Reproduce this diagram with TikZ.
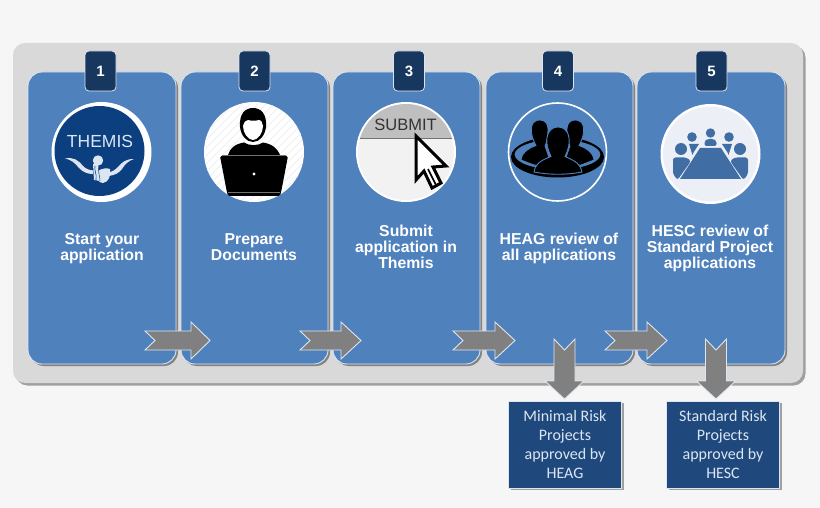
\documentclass[tikz,border=0pt]{standalone}
\usepackage{fontspec}
\setmainfont{Liberation Sans}
\newfontfamily\boxfont{Carlito}
\usetikzlibrary{shadows}
\definecolor{pagebg}{HTML}{F6F6F6}
\definecolor{panelc}{HTML}{D9D9D9}
\definecolor{cardc}{HTML}{4F81BD}
\definecolor{edgec}{HTML}{DCE6F2}
\definecolor{badgec}{HTML}{17375E}
\definecolor{boxc}{HTML}{1F497D}
\definecolor{arrowc}{HTML}{808080}
\definecolor{themisc}{HTML}{0B3F7F}
\definecolor{tablec}{HTML}{3F6DA4}
\definecolor{discc}{HTML}{ECF0F6}
\tikzset{
  x=1pt,y=-1pt,
  card/.style={draw=edgec,line width=.9pt,fill=cardc,rounded corners=14pt,minimum width=148pt,minimum height=292pt,inner sep=0pt,
    drop shadow={shadow xshift=2pt,shadow yshift=-2pt,fill=black,opacity=.4}},
  badge/.style={draw=edgec,line width=.8pt,fill=badgec,rounded corners=4pt,minimum width=31pt,minimum height=40pt,inner sep=0pt,text=white,font=\bfseries\fontsize{15}{16}\selectfont},
  title/.style={text=white,align=center,inner sep=0pt,font=\bfseries\fontsize{15.8}{16}\selectfont},
  result/.style={draw=edgec,line width=.7pt,fill=boxc,minimum width=113pt,minimum height=87pt,inner sep=0pt,text=edgec,align=center,
    font=\boxfont\fontsize{16}{19.3}\selectfont,
    drop shadow={shadow xshift=2pt,shadow yshift=-2pt,fill=black,opacity=.35}},
  blockarrow/.style={draw=edgec,line width=.9pt,fill=arrowc,line join=miter},
}
\newcommand{\arrowright}[3]{%
  \path[blockarrow,shift={(#1,340.5)}] (0,-9.5) -- (#2,-9.5) -- (#2,-18.5) -- (#3,0) -- (#2,18.5) -- (#2,9.5) -- (0,9.5) -- (10,0) -- cycle;}
\newcommand{\arrowdown}[1]{%
  \path[blockarrow,shift={(#1,0)}] (-10.5,339) -- (0,350) -- (10.5,339) -- (10.5,381) -- (19.5,381) -- (0,399) -- (-19.5,381) -- (-10.5,381) -- cycle;}
\begin{document}
\begin{tikzpicture}
\path[use as bounding box,fill=pagebg] (0,0) rectangle (820,508);
% panel
\node[fill=panelc,rounded corners=12pt,minimum width=790pt,minimum height=340pt,inner sep=0pt,
  drop shadow={shadow xshift=2.5pt,shadow yshift=-2.5pt,fill=black,opacity=.35}] (panel) at (408,213) {};
% cards
\node[card] (c1) at (102,218) {};
\node[card,minimum width=147pt] (c2) at (254.5,218) {};
\node[card,minimum width=147pt] (c3) at (406.5,218) {};
\node[card,minimum width=147pt] (c4) at (559.5,218) {};
\node[card] (c5) at (711,218) {};
% badges
\node[badge] (b1) at (100.5,71) {1};
\node[badge] (b2) at (254.5,71) {2};
\node[badge] (b3) at (409,71) {3};
\node[badge] (b4) at (558,71) {4};
\node[badge] (b5) at (711.5,71) {5};
% icon 1
\begin{scope}[shift={(50,100)}]
  \fill[white] (51.5,52) circle (50pt);
  \fill[themisc] (49.5,51) circle (45pt);
  \node[text=edgec,inner sep=0pt,font=\fontsize{17.5}{18}\selectfont] (themis) at (50,41) {THEMIS};
  \fill[edgec] (15,58.5) .. controls (24,57) and (28,60) .. (33,66) .. controls (36,69) and (39,70) .. (43,70.5) -- (43,74) .. controls (37,74) and (33,72) .. (29,68) .. controls (25,63) and (21,59.5) .. (15,58.5) -- cycle;
  \fill[edgec] (84,59) .. controls (76,59) and (72,62) .. (68,67) .. controls (65,70) and (62,72) .. (59,72) -- (59,76) .. controls (65,75) and (69,73) .. (72,69) .. controls (75,64) and (79,60.5) .. (84,59) -- cycle;
  \fill[edgec] (48,60.5) circle (5.2pt);
  \fill[edgec] (43,64) -- (48,64) -- (50,81) -- (44,80) -- cycle;
  \fill[edgec] (48,71) .. controls (52,68) and (57,68) .. (60,69) .. controls (61,76) and (59,82) .. (53,83) .. controls (51,83) and (49,82) .. (48,80) -- cycle;
  \draw[themisc,line width=.6pt] (45,66) .. controls (44,71) and (47,73) .. (46,80);
  \draw[themisc,line width=.5pt] (48.5,68) .. controls (48,72) and (50,76) .. (50,81);
\end{scope}
% icon 2
\begin{scope}[shift={(202,100)}]
  \fill[white] (52,52) circle (50pt);
  \begin{scope}
    \clip (52,52) circle (50pt);
    \foreach \d in {-80,-72,...,160}
      \draw[black!6,line width=.8pt] (\d,100) -- (\d+100,0);
  \end{scope}
  \fill[black] (38,27) .. controls (37,14) and (43,8) .. (51,8) .. controls (59,8) and (65,14) .. (64,27) .. controls (63,35) and (58,42) .. (51,42) .. controls (44,42) and (39,35) .. (38,27) -- cycle;
  \fill[white] (41,26) .. controls (42,22) and (44,20) .. (46,20) .. controls (49,21) and (54,21) .. (57,20) .. controls (59,20) and (61,23) .. (61,26) .. controls (61,33) and (56,40) .. (51,40) .. controls (46,40) and (41,33) .. (41,26) -- cycle;
  \fill[black] (26,55) .. controls (28,48) and (33,44) .. (42,42.5) .. controls (47,46) and (56,46) .. (61,42.5) .. controls (70,44) and (75,48) .. (78,55) -- cycle;
  \fill[black,rounded corners=1.5pt] (18,56) -- (86,56) -- (79.5,90) -- (78,96) -- (26,96) -- (24.5,90) -- cycle;
  \draw[black!55,line width=.6pt] (20,55.5) -- (84,55.5);
  \draw[black!55,line width=.7pt] (26,92.5) -- (78,92.5);
  \fill[white] (52,74) circle (1.7pt);
\end{scope}
% icon 3
\begin{scope}[shift={(354,100)}]
  \fill[white] (52,52) circle (50pt);
  \fill[black!5] (52,52) circle (48pt);
  \begin{scope}
    \clip (52,52) circle (48pt);
    \fill[black!25] (0,0) rectangle (104,38);
    \fill[black!55] (0,38) rectangle (104,39);
  \end{scope}
  \node[text=black!80,inner sep=0pt,font=\fontsize{16.5}{17}\selectfont] (submit) at (51.5,24.5) {SUBMIT};
  \path[draw=black,line width=3pt,fill=white,line join=miter] (62,36) -- (92,66) -- (79,67) -- (87,83) -- (78,88) -- (70,71) -- (62,80) -- cycle;
  \draw[black,line width=1.6pt] (74,69) -- (82,85);
\end{scope}
% icon 4
\begin{scope}[shift={(506,100)}]
  \draw[white,line width=1.6pt] (51.5,52) circle (49pt);
  \begin{scope}
    \clip (0,40) rectangle (104,90);
    \fill[black,even odd rule] (51.5,57) ellipse [x radius=46.5pt,y radius=20.5pt] (51.5,54.5) ellipse [x radius=43pt,y radius=15pt];
  \end{scope}
  \path[fill=black,draw=cardc,line width=.8pt] (15,60) .. controls (16,52) and (23,48) .. (30,45.5) .. controls (27,40) and (24.5,33) .. (25.5,27) .. controls (26.5,22) and (30,20) .. (34,20) .. controls (39,20) and (42,24) .. (42,29) .. controls (42,35) and (41,42) .. (39,46) -- (46,66) -- (28,65) -- cycle;
  \path[fill=black,draw=cardc,line width=.8pt] (88,60) .. controls (87,52) and (80,48) .. (73,45.5) .. controls (76,40) and (78.5,33) .. (77.5,27) .. controls (76.5,22) and (73,20) .. (69,20) .. controls (64,20) and (61,24) .. (61,29) .. controls (61,35) and (62,42) .. (64,46) -- (57,66) -- (75,65) -- cycle;
  \path[fill=black,draw=cardc,line width=.9pt] (28,72) .. controls (29,65) and (33,61) .. (45,56.5) .. controls (42,50) and (40,44) .. (41,38) .. controls (42,30) and (47,27) .. (52,27) .. controls (57,27) and (62,30) .. (63,38) .. controls (64,44) and (62,50) .. (59,56.5) .. controls (70,61) and (75,65) .. (76,72) .. controls (60,75) and (44,75) .. (28,72) -- cycle;
\end{scope}
% icon 5
\begin{scope}[shift={(658,102)}]
  \fill[white] (52.5,52) circle (50pt);
  \fill[discc] (52.5,52) circle (47.5pt);
  \fill[tablec] (42,46) -- (63,46) -- (83,77) -- (22,77) -- cycle;
  \fill[tablec] (52.5,31) circle (4.7pt);
  \fill[tablec,rounded corners=2pt] (46.5,44) -- (46.5,39) -- (49,37) -- (56,37) -- (58.5,39) -- (58.5,44) -- cycle;
  \foreach \s in {1,-1}{
    \begin{scope}[shift={(52.5,0)},xscale=\s]
      \fill[tablec] (-18.5,35) circle (4.8pt);
      \fill[tablec] (-21.5,42) -- (-11.5,42) -- (-17,50.5) -- (-18,53) -- cycle;
      \fill[tablec] (-29.5,47) circle (6pt);
      \fill[tablec,rounded corners=2.5pt] (-37.5,72) -- (-37.5,55.5) -- (-24,55.5) -- (-19.5,59) -- (-33,78) -- cycle;
    \end{scope}}
\end{scope}
% titles
\node[title] (t1) at (102,249) {Start your\\application};
\node[title] (t2) at (254,247) {Prepare\\Documents};
\node[title] (t3) at (406,247) {Submit\\application in\\Themis};
\node[title] (t4) at (559,248) {HEAG review of\\all applications};
\node[title] (t5) at (710,248) {HESC review of\\Standard Project\\applications};
% block arrows
\arrowright{145}{46}{65}
\arrowright{300}{41}{61}
\arrowright{453}{42}{62}
\arrowright{605}{42}{62}
\arrowdown{564.5}
\arrowdown{716}
% results
\node[result] (r1) at (565,444.5) {Minimal Risk\\Projects\\approved by\\HEAG};
\node[result] (r2) at (723,444.5) {Standard Risk\\Projects\\approved by\\HESC};
\end{tikzpicture}
\end{document}
